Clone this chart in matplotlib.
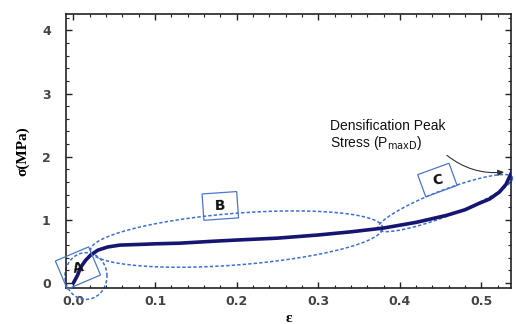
import numpy as np
import matplotlib
matplotlib.use("Agg")
import matplotlib.pyplot as plt
from matplotlib.patches import Rectangle
from matplotlib import transforms as mtransforms
from matplotlib.ticker import MultipleLocator

# stress-strain curve
strain = [0.000, 0.005, 0.009, 0.015, 0.021, 0.030, 0.042, 0.057, 0.080, 0.100,
          0.130, 0.170, 0.200, 0.250, 0.300, 0.340, 0.380, 0.420, 0.457, 0.480,
          0.497, 0.510, 0.522, 0.530, 0.534, 0.538]
stress = [0.00, 0.12, 0.25, 0.36, 0.44, 0.52, 0.57, 0.60, 0.61, 0.62,
          0.63, 0.66, 0.68, 0.71, 0.76, 0.81, 0.87, 0.96, 1.07, 1.16,
          1.26, 1.33, 1.44, 1.56, 1.67, 1.78]

x_ticks = [0.0, 0.1, 0.2, 0.3, 0.4, 0.5]
y_ticks = [0, 1, 2, 3, 4]

# region ellipses: centre, width, height, slope (data units)
region_names = ["A", "B", "C"]
ell_centre = [(0.0154, 0.11), (0.200, 0.695), (0.4555, 1.265)]
ell_width = [0.0515, 0.358, 0.165]
ell_height = [0.74, 0.82, 0.44]
ell_slope = [0.0, 0.98, 4.79]

# label boxes: position, rotation, size in points
box_pos = [(0.0056, 0.237), (0.180, 1.22), (0.446, 1.63)]
box_rot = [23, 4, 20]
box_size = [(26, 22), (25, 19), (24, 17)]

fig = plt.figure(figsize=(5.16, 3.24), dpi=100)
ax = fig.add_axes([0.128, 0.111, 0.862, 0.846])

ax.plot(strain, stress, color="#161672", lw=2.6, solid_capstyle="round", zorder=3)

ell_color = "#3d6fd1"
t = np.linspace(0, 2 * np.pi, 300)
for (cx, cy), w, h, s in zip(ell_centre, ell_width, ell_height, ell_slope):
    ex = cx + w / 2 * np.cos(t)
    ey = cy + s * (ex - cx) + h / 2 * np.sin(t)
    ax.plot(ex, ey, color=ell_color, lw=1.1, ls=(0, (2.2, 1.4)), clip_on=False, zorder=2)

for name, (bx, by), rot, (bw, bh) in zip(region_names, box_pos, box_rot, box_size):
    tr = (mtransforms.Affine2D().rotate_deg(rot).scale(1 / 72.0)
          + fig.dpi_scale_trans + mtransforms.ScaledTranslation(bx, by, ax.transData))
    rect = Rectangle((-bw / 2, -bh / 2), bw, bh, fill=False, ec="#4a78c8", lw=0.9,
                     transform=tr, clip_on=False, zorder=4)
    ax.add_patch(rect)
    ax.text(bx, by, name, ha="center", va="center", rotation=rot * 0.5,
            fontsize=10, fontweight="bold", color="#111", zorder=5)

# annotation of densification peak
ax.text(0.3145, 2.48, "Densification Peak", fontsize=10, family="Liberation Sans",
        color="#111", va="center", ha="left")
ax.text(0.3145, 2.21, r"Stress (P$_{\mathrm{maxD}}$)", fontsize=10,
        family="Liberation Sans", color="#111", va="center", ha="left")
ax.annotate("", xy=(0.531, 1.76), xytext=(0.455, 2.05),
            arrowprops=dict(arrowstyle="-|>", connectionstyle="arc3,rad=0.22",
                            color="#333", lw=0.8, mutation_scale=9))

ax.set_xlim(-0.009, 0.536)
ax.set_ylim(-0.08, 4.26)
ax.set_xticks(x_ticks)
ax.set_yticks(y_ticks)
ax.set_xticklabels(["%.1f" % v for v in x_ticks])
ax.set_yticklabels([str(v) for v in y_ticks])
ax.xaxis.set_minor_locator(MultipleLocator(0.02))
ax.yaxis.set_minor_locator(MultipleLocator(0.2))
ax.tick_params(which="both", direction="in", top=True, right=True, color="#222")
ax.tick_params(which="major", length=4, width=1.0)
ax.tick_params(which="minor", length=2, width=0.8)
ax.tick_params(axis="x", pad=5)
ax.tick_params(axis="y", pad=11)
for lab in ax.get_xticklabels() + ax.get_yticklabels():
    lab.set_fontweight("bold")
    lab.set_fontsize(9)
    lab.set_color("#444")
for sp in ax.spines.values():
    sp.set_linewidth(1.2)
    sp.set_color("#222")

ax.set_xlabel("ε", fontsize=11, fontweight="bold", family="Liberation Serif")
ax.xaxis.set_label_coords(0.5, -0.088)
ax.set_ylabel("σ(MPa)", fontsize=11, fontweight="bold", family="Liberation Serif")
ax.yaxis.set_label_coords(-0.083, 0.5)

fig.savefig("out.png", dpi=100)
